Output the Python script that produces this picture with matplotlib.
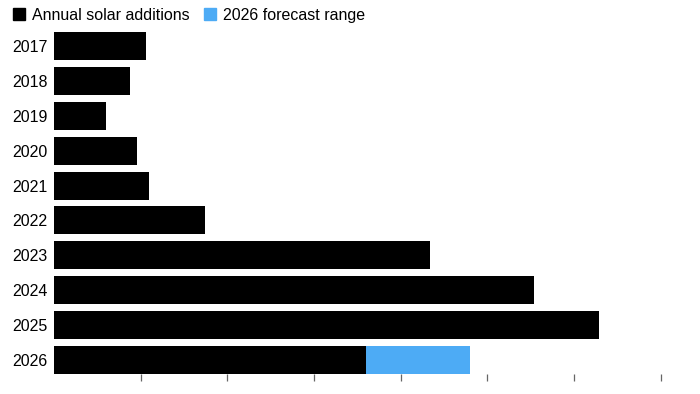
import matplotlib
matplotlib.use('Agg')
import matplotlib.pyplot as plt
from matplotlib.patches import Patch

plt.rcParams['font.family'] = ['Liberation Sans', 'DejaVu Sans']

# Annual solar additions (GW)
years = ['2017', '2018', '2019', '2020', '2021', '2022', '2023', '2024', '2025', '2026']
additions = [53.0, 44.0, 30.0, 48.0, 54.7, 87.3, 216.7, 276.8, 314.6, 180.0]
# 2026 forecast range: low end is the black bar, high end below
forecast_low = 180.0
forecast_high = 240.0
x_ticks = [0, 50, 100, 150, 200, 250, 300, 350]

BLACK = '#000000'
BLUE = '#4dabf5'

fig = plt.figure(figsize=(7, 3.94), dpi=100)
# axes from x=54px to the right edge, y=28px to 374px
ax = fig.add_axes([54 / 700, 1 - 374 / 394, 1 - 54 / 700, (374 - 28) / 394])

pos = list(range(len(years)))
ax.barh(pos, additions, height=0.8, color=BLACK, label='Annual solar additions')
ax.barh(pos[-1], forecast_high - forecast_low, left=forecast_low, height=0.8,
        color=BLUE, label='2026 forecast range')

ax.set_ylim(9.401, -0.516)
ax.set_xlim(0, 372.7)

ax.set_yticks(pos)
ax.set_yticklabels(years, fontsize=11.5)
ax.tick_params(axis='y', length=0, pad=4.5)

# x tick labels sit mostly below the bottom edge, as in the cropped original
ax.set_xticks(x_ticks)
ax.set_xticklabels([str(t) for t in x_ticks], fontsize=11, color='#555555')
ax.tick_params(axis='x', length=5, width=0.9, color='#666666', pad=10.5)
# the first tick (0) has no mark in the original
ax.xaxis.get_major_ticks()[0].tick1line.set_visible(False)

for s in ax.spines.values():
    s.set_visible(False)

handles = [Patch(color=BLACK), Patch(color=BLUE)]
fig.legend(handles, ['Annual solar additions', '2026 forecast range'],
           loc='upper left', bbox_to_anchor=(0.005, 1.005), ncol=2,
           frameon=False, fontsize=11.5, handlelength=0.75, handleheight=0.75,
           handletextpad=0.45, columnspacing=0.9, borderaxespad=0.2)

plt.savefig('out.png', dpi=100)
